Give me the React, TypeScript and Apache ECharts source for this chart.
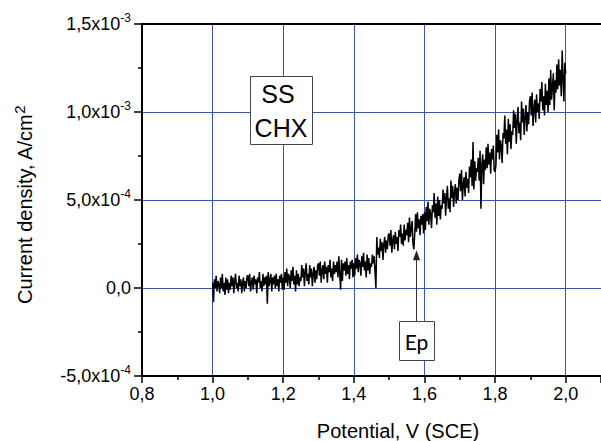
import React, { useEffect, useRef } from 'react';
import * as echarts from 'echarts';

// Potential sampling (V vs SCE)
const potentialStart = 1.0;
const potentialStep = 0.0025;

// Current density, in units of 1e-4 A/cm^2 (20 samples per 0.05 V)
const currentDensityE4 = [
  // 1.000 – 1.0475
  0.3, -0.8, 0.5, 0.0, 0.7, -0.2, 0.4, 0.2, -0.3, 0.6, 0.0, 0.8, -0.2, 0.3, -0.4, 0.6, -0.1, 0.5, -0.3, 0.3,
  // 1.050 – 1.0975
  -0.1, 0.7, 0.1, 0.6, -0.3, 0.4, 0.8, 0.0, 0.3, -0.2, 0.7, 0.1, 0.5, -0.3, 0.3, 0.6, -0.2, 0.4, 0.0, 0.7,
  // 1.100 – 1.1475
  0.7, 0.1, 0.8, -0.2, 0.3, 0.6, -0.1, 0.7, 0.2, 0.5, -0.3, 0.6, 0.3, 0.9, 0.0, 0.4, -0.2, 0.8, 0.1, 0.6,
  // 1.150 – 1.1975
  0.2, 0.7, -0.9, 0.9, 0.1, 0.4, 0.8, -0.2, 0.6, 0.2, 0.7, 0.0, 0.8, 0.1, 0.5, -0.2, 0.7, 0.3, 0.8, -0.1,
  // 1.200 – 1.2475
  0.6, -0.1, 0.9, 0.3, 1.1, 0.1, 0.8, 0.6, 0.0, 1.0, 0.4, 1.2, 0.2, 0.7, -0.2, 1.0, 0.2, 0.8, 0.1, 0.6,
  // 1.250 – 1.2975
  0.4, 1.3, 0.6, 1.1, 0.1, 0.9, 1.4, 0.4, 0.8, 0.2, 1.3, 0.6, 1.1, 0.1, 0.8, 1.2, 0.3, 1.0, 0.5, 1.3,
  // 1.300 – 1.3475
  1.4, 0.7, 1.5, 0.3, 1.0, 1.3, 0.5, 1.5, 0.8, 1.2, 0.3, 1.3, 0.9, 1.6, 0.6, 1.1, 0.4, 1.5, 0.8, 1.3,
  // 1.350 – 1.3975
  0.9, 1.5, 0.6, 1.8, 0.8, -0.1, 1.6, 0.4, 1.4, 1.0, 1.5, 0.7, 1.7, 0.8, 1.3, 0.5, 1.5, 1.1, 1.6, 0.6,
  // 1.400 – 1.4475
  1.4, 0.7, 1.7, 1.1, 1.9, 0.9, 1.6, 1.4, 0.7, 1.8, 1.2, 2.0, 1.0, 1.5, 0.6, 1.9, 1.0, 1.7, 0.8, 1.4,
  // 1.450 – 1.4975
  1.2, 1.9, 1.4, 1.8, 0.9, 0.0, 2.9, 1.9, 2.3, 1.7, 2.8, 2.1, 2.6, 1.6, 2.5, 2.9, 2.0, 2.7, 2.2, 3.0,
  // 1.500 – 1.5475
  3.1, 2.4, 3.3, 2.0, 2.7, 3.0, 2.2, 3.2, 2.5, 2.9, 2.1, 3.3, 2.9, 3.6, 2.5, 3.1, 2.4, 3.6, 2.7, 3.3,
  // 1.550 – 1.5975
  3.0, 3.7, 2.6, 4.0, 2.9, 3.4, 3.8, 2.5, 2.2, 3.1, 4.2, 3.2, 4.3, 3.4, 3.9, 3.0, 4.1, 3.6, 4.2, 3.1,
  // 1.600 – 1.6475
  4.3, 3.3, 4.6, 3.8, 4.9, 3.6, 4.5, 4.2, 3.4, 4.7, 4.3, 5.4, 4.0, 4.8, 3.6, 5.2, 4.1, 5.0, 3.9, 4.7,
  // 1.650 – 1.6975
  4.5, 5.6, 4.8, 5.4, 4.1, 5.2, 5.8, 4.5, 5.1, 4.3, 6.1, 5.1, 5.8, 4.6, 5.4, 5.9, 4.8, 5.7, 5.0, 6.1,
  // 1.700 – 1.7475
  6.5, 5.5, 6.7, 5.0, 5.9, 6.3, 5.2, 6.6, 5.7, 6.2, 5.4, 6.9, 6.3, 7.3, 5.8, 8.3, 5.6, 7.2, 6.1, 6.8,
  // 1.750 – 1.7975
  6.6, 7.4, 6.1, 7.8, 4.5, 7.0, 7.6, 5.9, 7.3, 6.7, 8.0, 6.8, 8.2, 7.0, 7.7, 6.5, 7.9, 7.3, 8.1, 6.7,
  // 1.800 – 1.8475
  6.6, 7.0, 8.7, 7.7, 9.0, 7.3, 8.4, 8.1, 7.1, 8.8, 8.5, 9.8, 8.2, 9.0, 7.6, 9.6, 8.3, 9.3, 7.9, 8.9,
  // 1.850 – 1.8975
  8.7, 10.1, 9.1, 9.9, 8.2, 9.5, 10.3, 8.8, 9.4, 8.4, 10.6, 9.4, 10.2, 8.7, 9.7, 10.4, 8.9, 10.0, 9.3, 10.6,
  // 1.900 – 1.9475
  10.9, 9.8, 11.1, 9.2, 10.2, 10.7, 9.4, 11.0, 10.0, 10.5, 9.6, 11.3, 10.6, 11.7, 10.1, 10.9, 9.8, 11.6, 10.4, 11.2,
  // 1.950 – 1.9975
  10.0, 11.9, 10.4, 12.4, 10.7, 11.4, 12.2, 10.1, 11.8, 11.1, 12.7, 11.3, 13.0, 11.5, 12.4, 10.9, 13.5, 11.9, 10.6, 12.8,
  // 2.000
  12.2,
];

const xTickLabels = ['0,8', '1,0', '1,2', '1,4', '1,6', '1,8', '2,0'];
const yTickLabels = ['-5,0x10{s|-4}', '0,0', '5,0x10{s|-4}', '1,0x10{s|-3}', '1,5x10{s|-3}'];

const xAxisName = 'Potential, V (SCE)';
const yAxisNameMain = 'Current density, A/cm';
const yAxisNameSup = '2';
const boxLines = ['SS', 'CHX'];
const epLabel = 'Ep';
const epPotential = 1.575;
const epArrowTip = 2.15e-4;
const epArrowBase = -1.88e-4;

const FONT = '"Liberation Sans", Arial, sans-serif';
const GRID_BLUE = '#3a56a8';

export default function App() {
  const ref = useRef<HTMLDivElement>(null);

  useEffect(() => {
    const el = ref.current;
    if (!el) return;
    const chart = echarts.init(el, null, { renderer: 'svg' });
    const data = currentDensityE4.map((v, i) => [potentialStart + i * potentialStep, v * 1e-4]);

    const xBase = { type: 'value', min: 0.8, max: 2.1, interval: 0.2 };

    chart.setOption({
      animation: false,
      grid: { left: 142, top: 24, width: 460, height: 352, show: false },
      xAxis: [
        {
          ...xBase,
          position: 'bottom',
          axisLine: { show: true, onZero: false, lineStyle: { color: '#000', width: 2 } },
          axisTick: { show: true, length: 7, lineStyle: { color: '#000', width: 1.5 } },
          minorTick: { show: true, splitNumber: 2, length: 4, lineStyle: { color: '#000', width: 1.5 } },
          axisLabel: {
            margin: 9,
            fontSize: 18,
            color: '#000',
            fontFamily: FONT,
            showMaxLabel: false,
            formatter: (_v: number, i: number) => xTickLabels[i] ?? '',
          },
          splitLine: { show: true, lineStyle: { color: GRID_BLUE, width: 1 } },
        },
        {
          ...xBase,
          position: 'top',
          axisLine: { show: true, onZero: false, lineStyle: { color: '#000', width: 2 } },
          axisTick: { show: false },
          minorTick: { show: false },
          axisLabel: { show: false },
          splitLine: { show: false },
        },
      ],
      yAxis: {
        type: 'value',
        min: -5e-4,
        max: 1.5e-3,
        interval: 5e-4,
        axisLine: { show: true, onZero: false, lineStyle: { color: '#000', width: 2 } },
        axisTick: { show: true, length: 8, lineStyle: { color: '#000', width: 1.5 } },
        minorTick: { show: true, splitNumber: 2, length: 4, lineStyle: { color: '#000', width: 1.5 } },
        axisLabel: {
          margin: 11,
          fontSize: 18,
          color: '#000',
          fontFamily: FONT,
          formatter: (_v: number, i: number) => yTickLabels[i] ?? '',
          rich: {
            s: { fontSize: 12, color: '#000', fontFamily: FONT, padding: [0, 0, 12, 0] },
          },
        },
        splitLine: { show: true, lineStyle: { color: GRID_BLUE, width: 1 } },
      },
      series: [
        {
          type: 'line',
          xAxisIndex: 0,
          data,
          showSymbol: false,
          symbol: 'none',
          lineStyle: { color: '#000', width: 1.5 },
          z: 3,
        },
      ],
    });

    const tip = chart.convertToPixel({ xAxisIndex: 0, yAxisIndex: 0 }, [epPotential, epArrowTip]) as number[];
    const base = chart.convertToPixel({ xAxisIndex: 0, yAxisIndex: 0 }, [epPotential, epArrowBase]) as number[];
    const ax = Math.round(tip[0]) + 0.5;

    chart.setOption({
      graphic: [
        {
          type: 'text',
          id: 'xname',
          x: 398,
          y: 431,
          z: 100,
          style: { text: xAxisName, fontSize: 20, fontFamily: FONT, fill: '#000', align: 'center', verticalAlign: 'middle' },
        },
        {
          type: 'text',
          id: 'yname',
          x: 25,
          y: 205,
          rotation: Math.PI / 2,
          z: 100,
          style: {
            text: `{a|${yAxisNameMain}}{s|${yAxisNameSup}}`,
            align: 'center',
            verticalAlign: 'middle',
            fill: '#000',
            rich: {
              a: { fontSize: 20, fontFamily: FONT, fill: '#000' },
              s: { fontSize: 15, fontFamily: FONT, fill: '#000', padding: [0, 0, 12, 0] },
            },
          },
        },
        {
          type: 'rect',
          id: 'boxSS',
          z: 100,
          shape: { x: 250.5, y: 76.5, width: 62, height: 68 },
          style: { fill: '#fff', stroke: '#444', lineWidth: 1 },
        },
        {
          type: 'text',
          id: 'ss1',
          x: 278,
          y: 94,
          z: 101,
          style: { text: boxLines[0], fontSize: 25, fontFamily: FONT, fill: '#000', align: 'center', verticalAlign: 'middle' },
        },
        {
          type: 'text',
          id: 'ss2',
          x: 281,
          y: 128,
          z: 101,
          style: { text: boxLines[1], fontSize: 25, fontFamily: FONT, fill: '#000', align: 'center', verticalAlign: 'middle' },
        },
        {
          type: 'line',
          id: 'arrowLine',
          z: 100,
          shape: { x1: ax, y1: tip[1] + 8, x2: ax, y2: base[1] },
          style: { stroke: '#333', lineWidth: 1 },
        },
        {
          type: 'polygon',
          id: 'arrowHead',
          z: 100,
          shape: { points: [[ax, tip[1]], [ax - 3.5, tip[1] + 10], [ax + 3.5, tip[1] + 10]] },
          style: { fill: '#222' },
        },
        {
          type: 'rect',
          id: 'epBox',
          z: 100,
          shape: { x: Math.round(ax - 17.5) + 0.5, y: Math.round(base[1]) + 0.5, width: 35, height: 39 },
          style: { fill: '#fff', stroke: '#444', lineWidth: 1 },
        },
        {
          type: 'text',
          id: 'epText',
          x: ax,
          y: Math.round(base[1]) + 20,
          z: 101,
          style: { text: epLabel, fontSize: 21, fontFamily: 'Lato, "Open Sans", sans-serif', fill: '#000', align: 'center', verticalAlign: 'middle' },
        },
      ],
    });

    return () => chart.dispose();
  }, []);

  return (
    <div
      ref={ref}
      style={{ position: 'absolute', left: 0, top: 0, width: 601, height: 441, background: '#fff' }}
    />
  );
}
